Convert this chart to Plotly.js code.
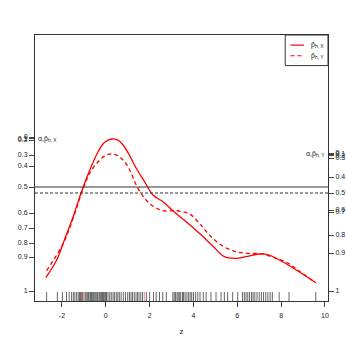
<!DOCTYPE html>
<html><head><meta charset="utf-8">
<script src="https://cdn.plot.ly/plotly-3.0.1.min.js"></script>
<style>body{margin:0;padding:0;background:#fff}#chart{width:346px;height:346px}</style>
</head><body><div id="chart"></div>
<script>
// x (z) ticks
const xTicks = [-2, 0, 2, 4, 6, 8, 10];
const xTickText = ["-2", "0", "2", "4", "6", "8", "10"];
// probability levels shown on both vertical axes
const probLabels = ["0", "0.1", "0.2", "0.3", "0.4", "0.5", "0.6", "0.7", "0.8", "0.9", "1"];
// axis-unit positions of those levels (quantile scale of X: left, Y: right)
const leftTickPos  = [164, 162.5, 161, 146, 135, 114, 88, 73, 58, 44, 10];
const rightTickPos = [148, 147, 145.5, 143, 124, 108, 91, 89, 66, 48, 10];

// smoothed curve for X (solid)
const zX = [-2.74,-2.24,-1.86,-1.49,-1.11,-0.73,-0.35,-0.05,0.26,0.52,0.79,1.09,1.39,1.77,2.15,2.61,3.06,3.67,4.27,4.88,5.41,5.94,6.39,7.0,7.45,8.06,8.82,9.58];
const yX = [23.3,41,62.7,84.3,109.3,131,149.3,158.7,162,161.3,156,145.3,132.7,119.3,106,99.3,90.3,79.3,67.7,55,44.3,42.7,44.3,47,46,39.3,29.3,18.3];
// smoothed curve for Y (dashed)
const zY = [-2.7,-1.94,-1.49,-1.03,-0.73,-0.35,0.03,0.41,0.79,1.09,1.39,1.77,2.15,2.61,3.21,3.82,4.27,4.73,5.33,5.94,6.55,7.15,7.76,8.3,8.82,9.58];
const yY = [30.3,57.7,82.7,112.7,127.7,139.3,146,146.7,141,131,116,102.7,95,90.3,90.3,87,77.7,66,55,49.3,47.7,47,42.7,38,30,18.3];

// rug of observed z values
const rugZ = [-2.70,-2.21,-1.98,-1.79,-1.67,-1.56,-1.48,-1.41,-1.33,
 -1.26,-1.2,-1.15,-1.1,-1.05,-0.95,-0.9,-0.85,-0.8,-0.76,-0.7,-0.65,-0.6,-0.55,-0.5,-0.45,-0.4,-0.36,-0.3,-0.25,-0.2,-0.15,-0.1,-0.05,0.0,0.03,
 0.1,0.18,0.25,0.33,0.4,0.48,0.55,0.62,0.7,0.8,0.9,1.0,1.08,
 1.15,1.22,1.3,1.38,1.45,1.52,1.6,1.68,
 1.85,2.0,2.18,2.3,2.45,2.6,2.76,
 3.06,3.12,3.18,3.25,3.3,3.36,3.42,3.5,3.55,3.62,3.7,3.78,3.85,3.92,4.0,4.1,4.2,4.3,4.45,4.58,
 4.8,5.03,5.26,5.41,5.56,5.79,6.02,
 6.24,6.32,6.4,6.48,6.56,6.65,6.72,6.8,6.9,7.0,7.1,7.2,7.3,7.4,7.5,7.6,
 7.91,8.36,9.58];
const rugRed = [-1.03, 1.76];

const yRange = [0, 266];
const rugTop = 9;

function rugXY(vals){
  const xs=[], ys=[];
  vals.forEach(v=>{xs.push(v,v,null); ys.push(0,rugTop,null);});
  return {xs, ys};
}
const r1 = rugXY(rugZ), r2 = rugXY(rugRed);

const traces = [
  {x: r1.xs, y: r1.ys, mode:'lines', line:{color:'rgba(0,0,0,0.6)', width:1}, hoverinfo:'skip', showlegend:false},
  {x: r2.xs, y: r2.ys, mode:'lines', line:{color:'rgba(255,60,60,0.6)', width:1}, hoverinfo:'skip', showlegend:false},
  {x: zX, y: yX, mode:'lines', line:{color:'#ff0000', width:1.3, shape:'spline'}, name:'X', showlegend:false},
  {x: zY, y: yY, yaxis:'y2', mode:'lines', line:{color:'#ff0000', width:1.3, dash:'4px,3px', shape:'spline'}, name:'Y', showlegend:false}
];

const fnt = {family:'Liberation Sans, Arial, sans-serif', size:7, color:'#222'};
const layout = {
  width:346, height:346,
  margin:{l:35, r:18, t:35, b:45, pad:0},
  paper_bgcolor:'#fff', plot_bgcolor:'#fff',
  showlegend:false,
  xaxis:{range:[-3.23,10.14], tickvals:xTicks, ticktext:xTickText, ticks:'outside', ticklen:5, tickcolor:'#444',
    ticklabelstandoff:3,
    showgrid:false, zeroline:false, showline:true, linecolor:'#333', linewidth:1, mirror:true,
    tickfont:fnt, title:{text:'z', font:{family:'Liberation Sans, Arial, sans-serif', size:8, color:'#222'}, standoff:9}},
  yaxis:{range:yRange, tickvals:leftTickPos, ticktext:probLabels, ticks:'outside', ticklen:5, tickcolor:'#444',
    showgrid:false, zeroline:false, showline:true, linecolor:'#333', linewidth:1, mirror:true, tickfont:fnt},
  yaxis2:{range:yRange, overlaying:'y', side:'right', tickvals:rightTickPos, ticktext:probLabels, ticks:'outside', ticklen:5, tickcolor:'#444',
    showgrid:false, zeroline:false, showline:false, tickfont:fnt},
  shapes:[
    {type:'line', xref:'paper', x0:0, x1:1, yref:'y', y0:leftTickPos[5], y1:leftTickPos[5], line:{color:'#333', width:1}},
    {type:'line', xref:'paper', x0:0, x1:1, yref:'y2', y0:rightTickPos[5], y1:rightTickPos[5], line:{color:'#333', width:1, dash:'3px,2px'}},
    {type:'rect', xref:'paper', yref:'paper', x0:0.854, x1:1, y0:0.885, y1:1, line:{color:'#333', width:1}, fillcolor:'#fff'},
    {type:'line', xref:'paper', yref:'paper', x0:0.872, x1:0.918, y0:0.962, y1:0.962, line:{color:'#ff0000', width:1.2}},
    {type:'line', xref:'paper', yref:'paper', x0:0.872, x1:0.918, y0:0.922, y1:0.922, line:{color:'#ff0000', width:1.2, dash:'4px,3px'}}
  ],
  annotations:[
    {xref:'paper', yref:'paper', x:0.935, y:0.962, xanchor:'left', yanchor:'middle', showarrow:false, text:'p̂<sub>h, X</sub>', font:fnt},
    {xref:'paper', yref:'paper', x:0.935, y:0.922, xanchor:'left', yanchor:'middle', showarrow:false, text:'p̂<sub>h, Y</sub>', font:fnt},
    {xref:'paper', yref:'y', x:0.005, y:leftTickPos[1], xanchor:'left', yanchor:'middle', showarrow:false, text:'α,p̂<sub>h, X</sub>', font:fnt},
    {xref:'paper', yref:'y2', x:0.995, y:rightTickPos[1], xanchor:'right', yanchor:'middle', showarrow:false, text:'α,p̂<sub>h, Y</sub>', font:fnt}
  ]
};
Plotly.newPlot('chart', traces, layout, {staticPlot:true, displayModeBar:false});
</script></body></html>
